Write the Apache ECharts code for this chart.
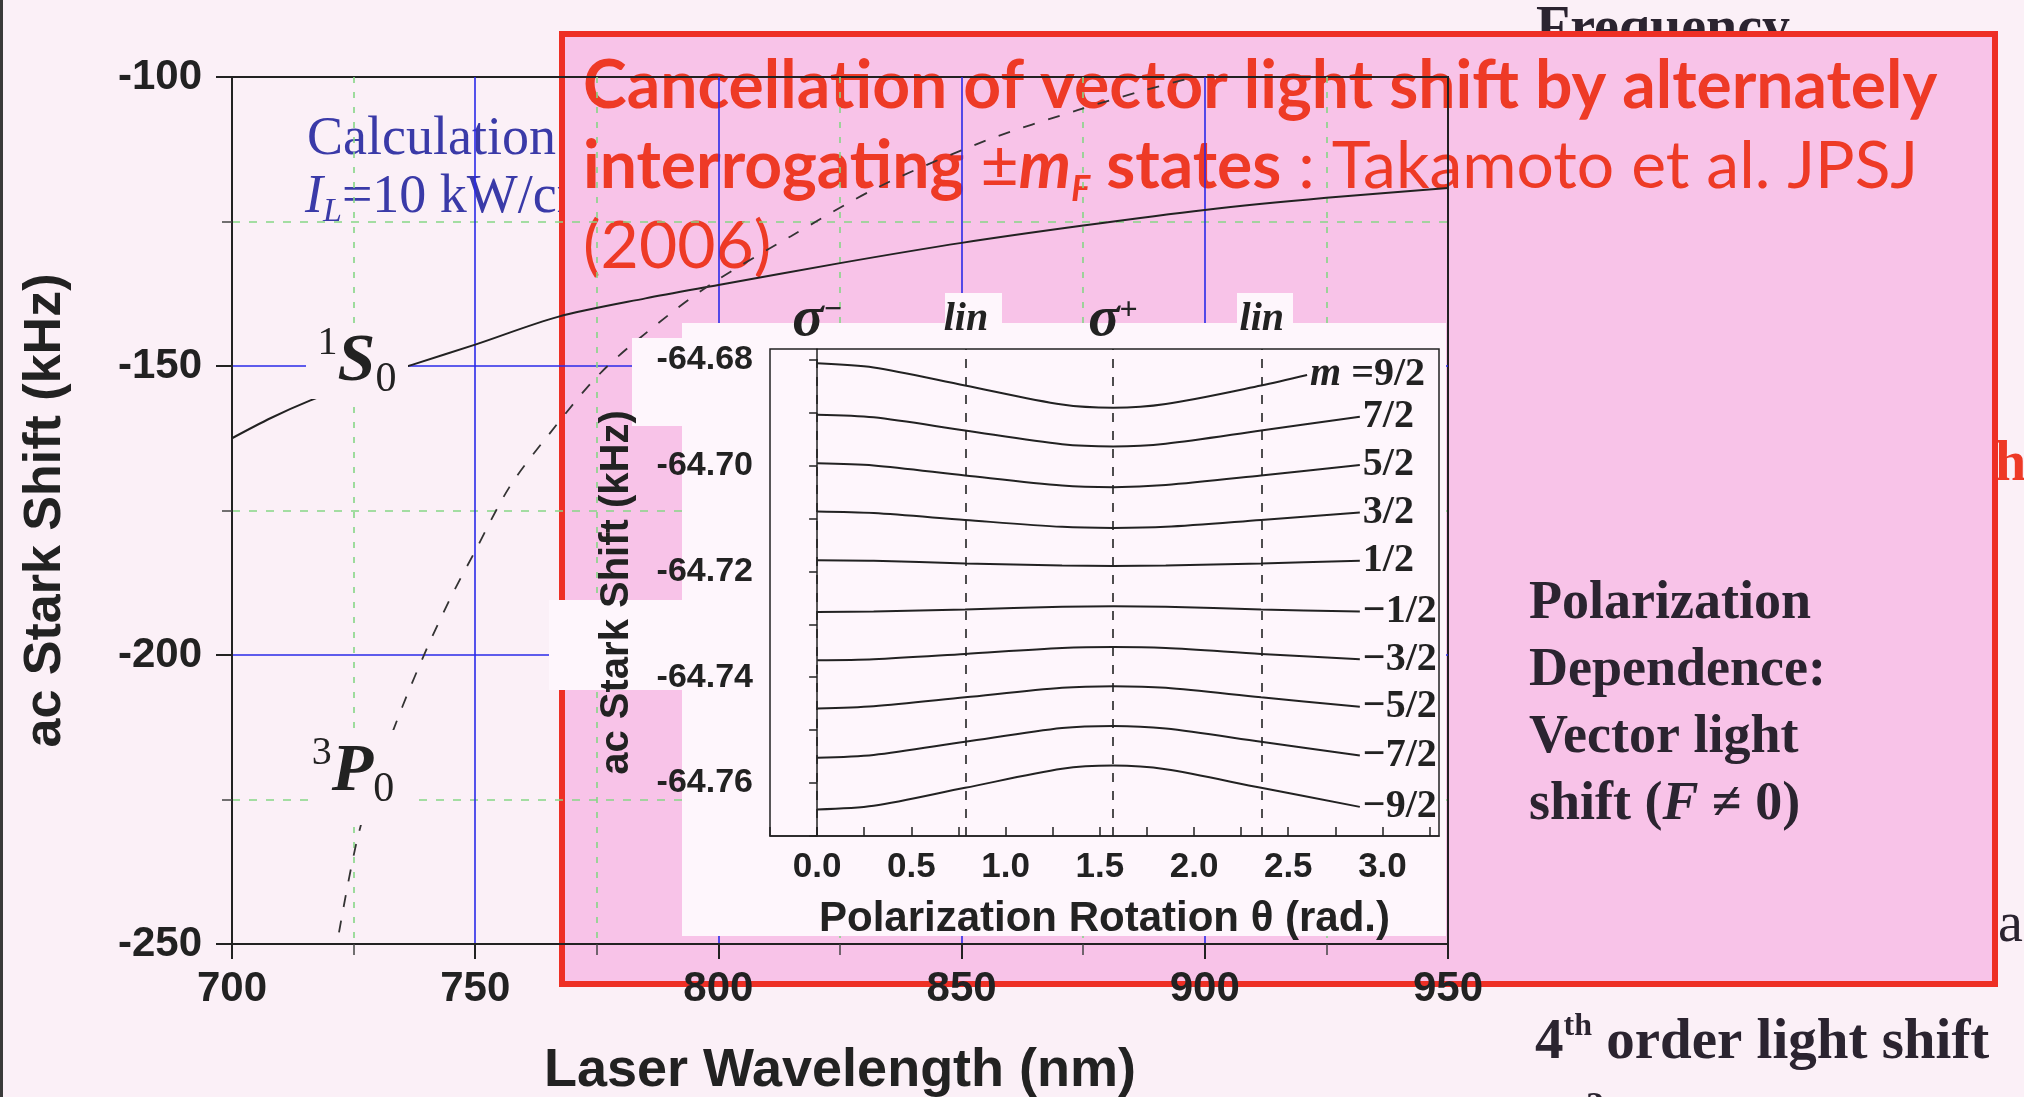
<!DOCTYPE html>
<html>
<head>
<meta charset="utf-8">
<script src="https://cdn.jsdelivr.net/npm/echarts@6/dist/echarts.min.js"></script>
<style>
  html, body { margin: 0; padding: 0; background: #fbf0f7; }
  #chart { width: 2024px; height: 1097px; }
</style>
</head>
<body>
<div id="chart"></div>
<script>
// main plot: ac Stark shift of the clock states vs laser wavelength
const wavelength1S0 = [700, 708, 716, 726, 737, 750, 767, 785, 800, 825, 850, 875, 900, 925, 950];
const shift1S0 = [-162.5, -159, -156, -152.8, -149.8, -146.3, -141.5, -138.3, -136, -132.2, -128.7, -125.7, -123, -120.9, -119.2];
const wavelength3P0 = [722, 726, 731, 735, 740, 745, 750, 757, 765, 776, 790, 800, 815, 833, 855, 874, 888, 898];
const shift3P0 = [-248, -231, -218, -209, -199, -190, -182, -171, -162, -151, -141, -135, -127.5, -119, -111, -105.7, -102.2, -100];

// inset: shift of each m sub-level vs polarization rotation
const thetaPoints = [0, 0.3, 0.785, 1.3, 1.571, 1.85, 2.356, 2.88];
const thetaPointsTop = [0, 0.3, 0.785, 1.3, 1.571, 1.85, 2.356, 2.6];
const shiftM9_2 = [-64.6807, -64.6815, -64.6849, -64.6885, -64.6891, -64.6884, -64.6849, -64.6829];
const shiftM7_2 = [-64.6904, -64.6909, -64.6934, -64.6960, -64.6964, -64.6959, -64.6934, -64.6908];
const shiftM5_2 = [-64.6996, -64.7000, -64.7019, -64.7038, -64.7041, -64.7037, -64.7019, -64.6999];
const shiftM3_2 = [-64.7087, -64.7090, -64.7103, -64.7116, -64.7118, -64.7116, -64.7103, -64.7089];
const shiftM1_2 = [-64.7179, -64.7180, -64.7185, -64.7189, -64.7190, -64.7189, -64.7185, -64.7180];
const shiftMm1_2 = [-64.7277, -64.7276, -64.7272, -64.7267, -64.7266, -64.7267, -64.7272, -64.7276];
const shiftMm3_2 = [-64.7368, -64.7366, -64.7356, -64.7345, -64.7343, -64.7345, -64.7356, -64.7366];
const shiftMm5_2 = [-64.7459, -64.7455, -64.7438, -64.7420, -64.7417, -64.7420, -64.7438, -64.7456];
const shiftMm7_2 = [-64.7552, -64.7547, -64.7522, -64.7496, -64.7492, -64.7497, -64.7522, -64.7548];
const shiftMm9_2 = [-64.7650, -64.7643, -64.7609, -64.7573, -64.7567, -64.7574, -64.7609, -64.7645];
const mLabels = ['{m|m} =9/2', '7/2', '5/2', '3/2', '1/2', '\u22121/2', '\u22123/2', '\u22125/2', '\u22127/2', '\u22129/2'];
const polarizationMarks = [0, 0.785, 1.571, 2.356];
const polarizationNames = ['{s|\u03c3}{sup|\u2212}', '{l|lin}', '{s|\u03c3}{sup|+}', '{l|lin}'];

const pageBg = '#fbf0f7';
const insetBg = '#fef6fc';
const sans = '"Liberation Sans", Arial, sans-serif';
const serif = '"Liberation Serif", "Times New Roman", serif';
const ink = '#222';

const zip = (xs, ys) => xs.map((x, i) => [x, ys[i]]);

const insetSets = [
  [thetaPointsTop, shiftM9_2], [thetaPoints, shiftM7_2], [thetaPoints, shiftM5_2],
  [thetaPoints, shiftM3_2], [thetaPoints, shiftM1_2], [thetaPoints, shiftMm1_2],
  [thetaPoints, shiftMm3_2], [thetaPoints, shiftMm5_2], [thetaPoints, shiftMm7_2],
  [thetaPoints, shiftMm9_2]
];

const insetSeries = insetSets.map((s, i) => ({
  type: 'line',
  xAxisIndex: 1,
  yAxisIndex: 1,
  z: 12,
  clip: false,
  smooth: 0.3,
  data: zip(s[0], s[1]),
  showSymbol: false,
  silent: true,
  lineStyle: { color: ink, width: 2 },
  endLabel: {
    show: true,
    distance: 3,
    formatter: mLabels[i],
    fontFamily: serif,
    fontWeight: 'bold',
    fontSize: 40,
    color: ink,
    rich: { m: { fontFamily: serif, fontWeight: 'bold', fontStyle: 'italic', fontSize: 40, color: ink } }
  }
}));

insetSeries[0].markLine = {
  silent: true,
  z: 13,
  symbol: ['none', 'none'],
  lineStyle: { color: ink, width: 1.6, type: [9, 9] },
  data: polarizationMarks.map((v, i) => ({ xAxis: v, label: { formatter: polarizationNames[i] } })),
  label: {
    show: true,
    position: 'end',
    distance: 4,
    color: ink,
    rich: {
      s: { fontFamily: serif, fontStyle: 'italic', fontWeight: 'bold', fontSize: 58, color: ink, lineHeight: 50 },
      sup: { fontFamily: serif, fontWeight: 'bold', fontSize: 32, color: ink, verticalAlign: 'top', lineHeight: 30 },
      l: { fontFamily: serif, fontStyle: 'italic', fontWeight: 'bold', fontSize: 40, color: ink, lineHeight: 50 }
    }
  }
};

const myChart = echarts.init(document.getElementById('chart'));
myChart.setOption({
  backgroundColor: pageBg,
  animation: false,
  grid: [
    { left: 232, top: 77, right: 576, bottom: 153, outerBoundsMode: 'none', show: true, borderColor: ink, borderWidth: 2 },
    { left: 770, top: 349, right: 585, bottom: 261, outerBoundsMode: 'none', show: true, borderColor: ink, borderWidth: 1.5, z: 11 }
  ],
  xAxis: [
    {
      gridIndex: 0, type: 'value', min: 700, max: 950, interval: 50,
      axisLine: { show: true, lineStyle: { color: ink, width: 2 } },
      axisTick: { show: true, length: 15, lineStyle: { color: ink, width: 2 } },
      minorTick: { show: true, splitNumber: 2, length: 11, lineStyle: { color: '#444', width: 1.5 } },
      splitLine: { show: true, showMinLine: false, showMaxLine: false, lineStyle: { color: '#2a2ae8', width: 1.6 } },
      minorSplitLine: { show: true, lineStyle: { color: '#86d686', width: 1.6, type: [6, 9] } },
      axisLabel: { fontFamily: sans, fontWeight: 'bold', fontSize: 42, color: ink, margin: 24 },
      name: 'Laser Wavelength (nm)', nameLocation: 'middle', nameGap: 100,
      nameTextStyle: { fontFamily: sans, fontWeight: 'bold', fontSize: 54, color: ink }
    },
    {
      gridIndex: 1, type: 'value', min: -0.25, max: 3.3, interval: 0.25, z: 12,
      axisLine: { show: true, lineStyle: { color: ink, width: 1.5 } },
      axisTick: { show: true, inside: true, length: 9, lineStyle: { color: ink, width: 1.5 } },
      splitLine: { show: false },
      axisLabel: {
        fontFamily: sans, fontWeight: 'bold', fontSize: 35, color: ink, margin: 14, showMaxLabel: false,
        formatter: v => {
          const k = Math.round(v * 2);
          return (Math.abs(v * 2 - k) < 1e-6 && v > -1e-6 && v < 3.01) ? v.toFixed(1) : '';
        }
      },
      name: 'Polarization Rotation \u03b8 (rad.)', nameLocation: 'middle', nameGap: 62,
      nameTextStyle: { fontFamily: sans, fontWeight: 'bold', fontSize: 42, color: ink }
    }
  ],
  yAxis: [
    {
      gridIndex: 0, type: 'value', min: -250, max: -100, interval: 50,
      axisLine: { show: true, lineStyle: { color: ink, width: 2 } },
      axisTick: { show: true, length: 16, lineStyle: { color: ink, width: 2 } },
      minorTick: { show: true, splitNumber: 2, length: 10, lineStyle: { color: '#444', width: 1.5 } },
      splitLine: { show: true, showMinLine: false, showMaxLine: false, lineStyle: { color: '#2a2ae8', width: 1.6 } },
      minorSplitLine: { show: true, lineStyle: { color: '#86d686', width: 1.6, type: [8, 9] } },
      axisLabel: { fontFamily: sans, fontWeight: 'bold', fontSize: 42, color: ink, margin: 30 },
      name: 'ac Stark Shift (kHz)', nameLocation: 'middle', nameGap: 160, nameRotate: 90,
      nameTextStyle: { fontFamily: sans, fontWeight: 'bold', fontSize: 52, color: ink }
    },
    {
      gridIndex: 1, type: 'value', min: -64.77, max: -64.678, interval: 0.01, z: 12,
      axisLine: { show: true, lineStyle: { color: ink, width: 1.5 } },
      axisTick: { show: true, length: 8, lineStyle: { color: ink, width: 1.5 } },
      splitLine: { show: false },
      axisLabel: {
        fontFamily: sans, fontWeight: 'bold', fontSize: 34, color: ink, margin: 17, showMaxLabel: false,
        formatter: v => {
          const k = Math.round(v * 100);
          return (Math.abs(v * 100 - k) < 1e-6 && k % 2 === 0) ? v.toFixed(2) : '';
        }
      },
      name: 'ac Stark Shift (kHz)', nameLocation: 'middle', nameGap: 133, nameRotate: 90,
      nameTextStyle: { fontFamily: sans, fontWeight: 'bold', fontSize: 40, color: ink }
    }
  ],
  series: [
    {
      type: 'line', xAxisIndex: 0, yAxisIndex: 0, smooth: 0.3, showSymbol: false, silent: true,
      data: zip(wavelength1S0, shift1S0),
      lineStyle: { color: ink, width: 2 }
    },
    {
      type: 'line', xAxisIndex: 0, yAxisIndex: 0, smooth: 0.3, showSymbol: false, silent: true,
      data: zip(wavelength3P0, shift3P0),
      lineStyle: { color: '#333', width: 1.8, type: [12, 14] }
    }
  ].concat(insetSeries),
  graphic: [
    // slide text partly hidden behind the pink box
    { type: 'text', z: -4, x: 307, y: 140, style: { text: 'Calculation', fontFamily: serif, fontSize: 54, fill: '#3a3aa8', verticalAlign: 'middle' } },
    { type: 'text', z: -4, x: 305, y: 198, style: {
      text: '{i|I}{sub|L}{n|=10 kW/cm}{sup|2}', verticalAlign: 'middle',
      rich: {
        i: { fontFamily: serif, fontStyle: 'italic', fontSize: 54, fill: '#3a3aa8', lineHeight: 62 },
        sub: { fontFamily: serif, fontStyle: 'italic', fontSize: 34, fill: '#3a3aa8', verticalAlign: 'bottom', lineHeight: 34 },
        n: { fontFamily: serif, fontSize: 54, fill: '#3a3aa8', lineHeight: 62 },
        sup: { fontFamily: serif, fontSize: 34, fill: '#3a3aa8', verticalAlign: 'top', lineHeight: 34 }
      } } },
    { type: 'text', z: -4, x: 1536, y: 31, style: { text: 'Frequency', fontFamily: serif, fontWeight: 'bold', fontSize: 56, fill: '#2b2430', verticalAlign: 'middle' } },
    { type: 'text', z: -4, x: 1995, y: 466, style: { text: 'h', fontFamily: serif, fontWeight: 'bold', fontSize: 56, fill: '#ee3a26', verticalAlign: 'middle' } },
    { type: 'text', z: -4, x: 1998, y: 926, style: { text: 'a', fontFamily: serif, fontSize: 56, fill: '#2b2430', verticalAlign: 'middle' } },
    { type: 'text', z: -4, x: 1604, y: 975, style: { text: '2', fontFamily: serif, fontWeight: 'bold', fontSize: 36, fill: '#2b2430', verticalAlign: 'middle' } },
    { type: 'text', z: -4, x: 1586, y: 1108, style: { text: '2', fontFamily: serif, fontWeight: 'bold', fontSize: 36, fill: '#2b2430', verticalAlign: 'middle' } },
    // pink note box
    { type: 'rect', z: -3, shape: { x: 562, y: 34, width: 1433, height: 950 }, style: { fill: '#f8c3e8', stroke: '#ee2f25', lineWidth: 6 } },
    { type: 'text', z: -2, x: 583, y: 47, style: {
      text: '{b|Cancellation of vector light shift by alternately}\n{b|interrogating }{r|\u00b1}{bi|m}{sub|F}{b| states}{r| : Takamoto et al. JPSJ}\n{r|(2006)}',
      verticalAlign: 'top',
      rich: {
        b: { fontFamily: 'Lato, sans-serif', fontWeight: 'bold', fontSize: 66, fill: '#ee3a26', lineHeight: 80 },
        bi: { fontFamily: 'Lato, sans-serif', fontWeight: 'bold', fontStyle: 'italic', fontSize: 66, fill: '#ee3a26', lineHeight: 80 },
        sub: { fontFamily: 'Lato, sans-serif', fontWeight: 'bold', fontStyle: 'italic', fontSize: 36, fill: '#ee3a26', lineHeight: 40, verticalAlign: 'bottom' },
        r: { fontFamily: 'Lato, sans-serif', fontSize: 66, fill: '#ee3a26', lineHeight: 80 }
      } } },
    { type: 'text', z: -2, x: 1529, y: 571, style: {
      text: '{n|Polarization}\n{n|Dependence:}\n{n|Vector light}\n{n|shift (}{i|F}{n| \u2260 0)}',
      verticalAlign: 'top',
      rich: {
        n: { fontFamily: serif, fontWeight: 'bold', fontSize: 54, fill: '#2b2430', lineHeight: 67 },
        i: { fontFamily: serif, fontWeight: 'bold', fontStyle: 'italic', fontSize: 54, fill: '#2b2430', lineHeight: 67 }
      } } },
    { type: 'text', z: -2, x: 1535, y: 1043, style: {
      text: '{n|4}{sup|th}{n| order light shift}', verticalAlign: 'middle',
      rich: {
        n: { fontFamily: serif, fontWeight: 'bold', fontSize: 57, fill: '#2b2430', lineHeight: 64 },
        sup: { fontFamily: serif, fontWeight: 'bold', fontSize: 32, fill: '#2b2430', lineHeight: 32, verticalAlign: 'top' }
      } } },
    // state labels on the main plot
    { type: 'rect', z: 5, shape: { x: 306, y: 325, width: 102, height: 74 }, style: { fill: pageBg } },
    { type: 'text', z: 6, x: 357, y: 362, style: {
      text: '{sup|1}{s|S}{sub|0}', align: 'center', verticalAlign: 'middle',
      rich: {
        sup: { fontFamily: serif, fontSize: 40, fill: ink, lineHeight: 40, verticalAlign: 'top' },
        s: { fontFamily: serif, fontStyle: 'italic', fontWeight: 'bold', fontSize: 68, fill: ink, lineHeight: 78 },
        sub: { fontFamily: serif, fontSize: 42, fill: ink, lineHeight: 42, verticalAlign: 'bottom' }
      } } },
    { type: 'rect', z: 5, shape: { x: 310, y: 730, width: 105, height: 95 }, style: { fill: pageBg } },
    { type: 'text', z: 6, x: 353, y: 772, style: {
      text: '{sup|3}{s|P}{sub|0}', align: 'center', verticalAlign: 'middle',
      rich: {
        sup: { fontFamily: serif, fontSize: 40, fill: ink, lineHeight: 40, verticalAlign: 'top' },
        s: { fontFamily: serif, fontStyle: 'italic', fontWeight: 'bold', fontSize: 68, fill: ink, lineHeight: 78 },
        sub: { fontFamily: serif, fontSize: 42, fill: ink, lineHeight: 42, verticalAlign: 'bottom' }
      } } },
    // inset panel background
    { type: 'rect', z: 10, shape: { x: 682, y: 323, width: 764, height: 613 }, style: { fill: insetBg } },
    { type: 'rect', z: 10, shape: { x: 632, y: 338, width: 52, height: 88 }, style: { fill: insetBg } },
    { type: 'rect', z: 10, shape: { x: 549, y: 600, width: 135, height: 90 }, style: { fill: insetBg } },
    { type: 'rect', z: 10, shape: { x: 945, y: 293, width: 57, height: 32 }, style: { fill: insetBg } },
    { type: 'rect', z: 10, shape: { x: 1237, y: 293, width: 56, height: 32 }, style: { fill: insetBg } },
    // slide frame edge
    { type: 'rect', z: 20, shape: { x: 0, y: 0, width: 3, height: 1097 }, style: { fill: '#3a3a3a' } }
  ]
});
</script>
</body>
</html>
